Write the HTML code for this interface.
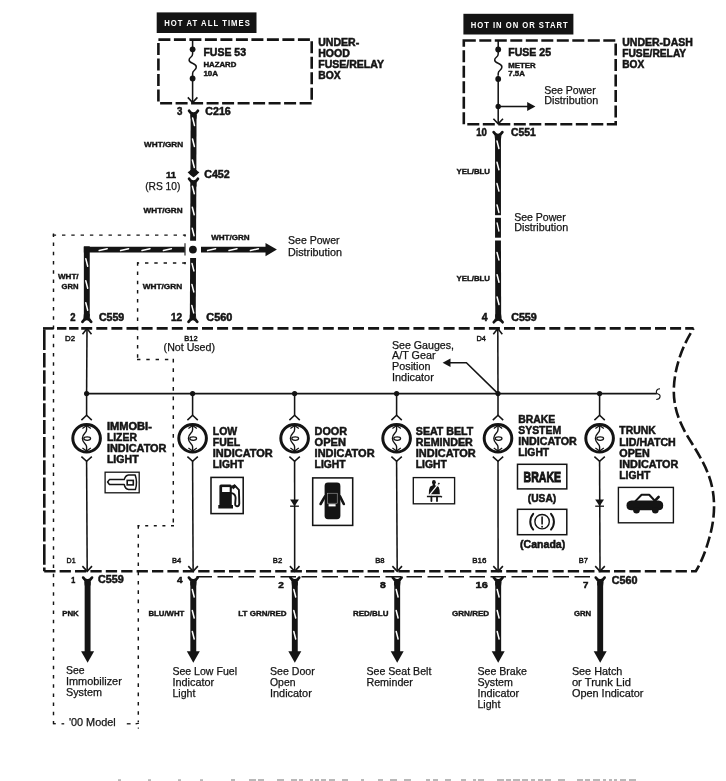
<!DOCTYPE html>
<html><head><meta charset="utf-8"><title>Indicator lights wiring diagram</title>
<style>
html,body{margin:0;padding:0;background:#fff;}
body{width:726px;height:781px;overflow:hidden;}
svg{display:block;font-family:"Liberation Sans",sans-serif;filter:blur(0.35px);}
</style></head>
<body>
<svg width="726" height="781" viewBox="0 0 726 781">
<rect width="726" height="781" fill="#ffffff"/>
<rect x="156.7" y="12.4" width="99.8" height="20.6" fill="#141414"/>
<text transform="translate(164.2,26.4) scale(0.8,1)" font-size="9.6" font-weight="bold" fill="#fff" stroke="#fff" stroke-width="0" textLength="107.0" lengthAdjust="spacing">HOT AT ALL TIMES</text>
<path d="M158.4,39.6 H311.7 V103.2 H158.4 Z" stroke="#141414" stroke-width="2.6" fill="none" stroke-linecap="butt" stroke-linejoin="miter" stroke-dasharray="12 3.5"/>
<line x1="192.6" y1="39.6" x2="192.6" y2="52.0" stroke="#141414" stroke-width="1.55" stroke-linecap="butt"/>
<circle cx="192.6" cy="49.3" r="2.9" fill="#141414"/>
<circle cx="192.6" cy="78.5" r="2.9" fill="#141414"/>
<path d="M192.6,52 L192.6,54 C192.6,57.5 189.1,57 189.1,60 C189.1,64 196.29999999999998,62.5 196.29999999999998,67 C196.29999999999998,70.5 192.6,70 192.6,73.5 L192.6,75" stroke="#141414" stroke-width="1.5" fill="none" stroke-linecap="butt" stroke-linejoin="miter"/>
<line x1="192.6" y1="75.0" x2="192.6" y2="102.4" stroke="#141414" stroke-width="1.55" stroke-linecap="butt"/>
<path d="M187.8,97.4 L192.6,102.6 L197.4,97.4" stroke="#141414" stroke-width="1.55" fill="none" stroke-linecap="butt" stroke-linejoin="miter"/>
<text x="203.4" y="56.4" font-size="10.2" font-weight="bold" fill="#141414" stroke="#141414" stroke-width="0.5" textLength="42.6" lengthAdjust="spacingAndGlyphs">FUSE 53</text>
<text x="203.4" y="67.1" font-size="6.8" font-weight="bold" fill="#141414" stroke="#141414" stroke-width="0.38" textLength="33.0" lengthAdjust="spacingAndGlyphs">HAZARD</text>
<text x="203.4" y="75.8" font-size="6.8" font-weight="bold" fill="#141414" stroke="#141414" stroke-width="0.38" textLength="14.6" lengthAdjust="spacingAndGlyphs">10A</text>
<text x="318.2" y="45.6" font-size="10.1" font-weight="bold" fill="#141414" stroke="#141414" stroke-width="0.5" textLength="41.0" lengthAdjust="spacingAndGlyphs">UNDER-</text>
<text x="318.2" y="56.6" font-size="10.1" font-weight="bold" fill="#141414" stroke="#141414" stroke-width="0.5" textLength="31.7" lengthAdjust="spacingAndGlyphs">HOOD</text>
<text x="318.2" y="67.6" font-size="10.1" font-weight="bold" fill="#141414" stroke="#141414" stroke-width="0.5" textLength="65.8" lengthAdjust="spacingAndGlyphs">FUSE/RELAY</text>
<text x="318.2" y="78.9" font-size="10.1" font-weight="bold" fill="#141414" stroke="#141414" stroke-width="0.5" textLength="22.4" lengthAdjust="spacingAndGlyphs">BOX</text>
<text x="177.1" y="114.5" font-size="10.1" font-weight="bold" fill="#141414" stroke="#141414" stroke-width="0.5" textLength="5.4" lengthAdjust="spacingAndGlyphs">3</text>
<text x="205.3" y="114.5" font-size="10.1" font-weight="bold" fill="#141414" stroke="#141414" stroke-width="0.5" textLength="25.5" lengthAdjust="spacingAndGlyphs">C216</text>
<path d="M189.14,110.80 Q190.30,113.10 193.50,113.90 Q196.70,113.10 197.86,110.80" stroke="#141414" stroke-width="2.8" fill="none" stroke-linecap="round" stroke-linejoin="round"/>
<line x1="193.5" y1="112.8" x2="193.5" y2="118.7" stroke="#141414" stroke-width="5.9" stroke-linecap="butt"/>
<path d="M190.55,118.20 Q190.55,113.40 188.80,110.70 L190.85,113.20 Z" fill="#141414"/>
<path d="M196.45,118.20 Q196.45,113.40 198.20,110.70 L196.15,113.20 Z" fill="#141414"/>
<line x1="193.6" y1="115.0" x2="193.4" y2="171.5" stroke="#141414" stroke-width="5.9" stroke-linecap="butt"/>
<line x1="192.6" y1="118.0" x2="194.5" y2="125.5" stroke="#fff" stroke-width="1.5" stroke-linecap="round"/>
<line x1="192.5" y1="139.0" x2="194.4" y2="146.5" stroke="#fff" stroke-width="1.5" stroke-linecap="round"/>
<line x1="192.4" y1="160.0" x2="194.3" y2="167.5" stroke="#fff" stroke-width="1.5" stroke-linecap="round"/>
<path d="M190.5,170 Q189.5,171.6 187.6,172.2 Q190.5,175.6 193.5,177.4 Q196.5,175.6 199.4,172.2 Q197.5,171.6 196.5,170 Z" fill="#141414"/>
<path d="M189.14,178.80 Q190.30,181.10 193.50,181.90 Q196.70,181.10 197.86,178.80" stroke="#141414" stroke-width="2.8" fill="none" stroke-linecap="round" stroke-linejoin="round"/>
<line x1="193.5" y1="180.8" x2="193.5" y2="186.7" stroke="#141414" stroke-width="5.9" stroke-linecap="butt"/>
<path d="M190.55,186.20 Q190.55,181.40 188.80,178.70 L190.85,181.20 Z" fill="#141414"/>
<path d="M196.45,186.20 Q196.45,181.40 198.20,178.70 L196.15,181.20 Z" fill="#141414"/>
<line x1="193.4" y1="184.5" x2="193.1" y2="240.8" stroke="#141414" stroke-width="5.9" stroke-linecap="butt"/>
<line x1="192.4" y1="186.3" x2="194.3" y2="193.8" stroke="#fff" stroke-width="1.5" stroke-linecap="round"/>
<line x1="192.3" y1="207.3" x2="194.2" y2="214.8" stroke="#fff" stroke-width="1.5" stroke-linecap="round"/>
<line x1="192.2" y1="228.3" x2="194.1" y2="235.8" stroke="#fff" stroke-width="1.5" stroke-linecap="round"/>
<text x="144.0" y="146.5" font-size="7.4" font-weight="bold" fill="#141414" stroke="#141414" stroke-width="0.38" textLength="39.1" lengthAdjust="spacingAndGlyphs">WHT/GRN</text>
<text x="166.0" y="178.3" font-size="9.9" font-weight="bold" fill="#141414" stroke="#141414" stroke-width="0.5" textLength="10.1" lengthAdjust="spacingAndGlyphs">11</text>
<text x="204.2" y="178.3" font-size="10.1" font-weight="bold" fill="#141414" stroke="#141414" stroke-width="0.5" textLength="25.5" lengthAdjust="spacingAndGlyphs">C452</text>
<text x="145.2" y="190.0" font-size="10.6" font-weight="normal" fill="#141414" stroke="#141414" stroke-width="0.25" textLength="35.2" lengthAdjust="spacingAndGlyphs">(RS 10)</text>
<text x="143.6" y="212.7" font-size="7.4" font-weight="bold" fill="#141414" stroke="#141414" stroke-width="0.38" textLength="39.0" lengthAdjust="spacingAndGlyphs">WHT/GRN</text>
<line x1="83.8" y1="249.6" x2="184.8" y2="249.6" stroke="#141414" stroke-width="5.9" stroke-linecap="butt"/>
<line x1="99.2" y1="250.6" x2="107.2" y2="248.7" stroke="#fff" stroke-width="1.5" stroke-linecap="round"/>
<line x1="120.6" y1="250.6" x2="128.6" y2="248.7" stroke="#fff" stroke-width="1.5" stroke-linecap="round"/>
<line x1="142.0" y1="250.6" x2="150.0" y2="248.7" stroke="#fff" stroke-width="1.5" stroke-linecap="round"/>
<line x1="163.4" y1="250.6" x2="171.4" y2="248.7" stroke="#fff" stroke-width="1.5" stroke-linecap="round"/>
<line x1="201.0" y1="249.6" x2="266.5" y2="249.6" stroke="#141414" stroke-width="5.9" stroke-linecap="butt"/>
<line x1="207.6" y1="250.6" x2="215.6" y2="248.7" stroke="#fff" stroke-width="1.5" stroke-linecap="round"/>
<line x1="229.0" y1="250.6" x2="237.0" y2="248.7" stroke="#fff" stroke-width="1.5" stroke-linecap="round"/>
<line x1="250.4" y1="250.6" x2="258.4" y2="248.7" stroke="#fff" stroke-width="1.5" stroke-linecap="round"/>
<path d="M265.5,243.0 L276.9,249.6 L265.5,256.2 Z" fill="#141414"/>
<circle cx="192.9" cy="249.6" r="3.9" fill="#141414"/>
<line x1="193.1" y1="258.0" x2="192.8" y2="316.5" stroke="#141414" stroke-width="5.9" stroke-linecap="butt"/>
<line x1="192.0" y1="263.4" x2="193.9" y2="270.9" stroke="#fff" stroke-width="1.5" stroke-linecap="round"/>
<line x1="191.9" y1="284.4" x2="193.8" y2="291.9" stroke="#fff" stroke-width="1.5" stroke-linecap="round"/>
<line x1="191.8" y1="305.4" x2="193.7" y2="312.9" stroke="#fff" stroke-width="1.5" stroke-linecap="round"/>
<path d="M188.54,321.80 Q189.70,319.50 192.90,318.70 Q196.10,319.50 197.26,321.80" stroke="#141414" stroke-width="2.8" fill="none" stroke-linecap="round" stroke-linejoin="round"/>
<line x1="192.9" y1="319.8" x2="192.9" y2="313.9" stroke="#141414" stroke-width="5.9" stroke-linecap="butt"/>
<path d="M189.95,314.40 Q189.95,319.20 188.20,321.90 L190.25,319.40 Z" fill="#141414"/>
<path d="M195.85,314.40 Q195.85,319.20 197.60,321.90 L195.55,319.40 Z" fill="#141414"/>
<line x1="86.8" y1="246.3" x2="86.8" y2="316.5" stroke="#141414" stroke-width="5.9" stroke-linecap="butt"/>
<line x1="85.8" y1="258.7" x2="87.7" y2="266.2" stroke="#fff" stroke-width="1.5" stroke-linecap="round"/>
<line x1="85.8" y1="280.7" x2="87.7" y2="288.2" stroke="#fff" stroke-width="1.5" stroke-linecap="round"/>
<line x1="85.8" y1="302.7" x2="87.7" y2="310.2" stroke="#fff" stroke-width="1.5" stroke-linecap="round"/>
<path d="M82.44,321.80 Q83.60,319.50 86.80,318.70 Q90.00,319.50 91.16,321.80" stroke="#141414" stroke-width="2.8" fill="none" stroke-linecap="round" stroke-linejoin="round"/>
<line x1="86.8" y1="319.8" x2="86.8" y2="313.9" stroke="#141414" stroke-width="5.9" stroke-linecap="butt"/>
<path d="M83.85,314.40 Q83.85,319.20 82.10,321.90 L84.15,319.40 Z" fill="#141414"/>
<path d="M89.75,314.40 Q89.75,319.20 91.50,321.90 L89.45,319.40 Z" fill="#141414"/>
<text x="211.2" y="239.6" font-size="7.4" font-weight="bold" fill="#141414" stroke="#141414" stroke-width="0.38" textLength="38.5" lengthAdjust="spacingAndGlyphs">WHT/GRN</text>
<text x="288.0" y="244.4" font-size="10.7" font-weight="normal" fill="#141414" stroke="#141414" stroke-width="0.25" textLength="51.5" lengthAdjust="spacingAndGlyphs">See Power</text>
<text x="288.0" y="255.5" font-size="10.7" font-weight="normal" fill="#141414" stroke="#141414" stroke-width="0.25" textLength="54.0" lengthAdjust="spacingAndGlyphs">Distribution</text>
<text x="58.0" y="279.0" font-size="7.4" font-weight="bold" fill="#141414" stroke="#141414" stroke-width="0.38" textLength="20.6" lengthAdjust="spacingAndGlyphs">WHT/</text>
<text x="61.5" y="288.6" font-size="7.4" font-weight="bold" fill="#141414" stroke="#141414" stroke-width="0.38" textLength="17.0" lengthAdjust="spacingAndGlyphs">GRN</text>
<text x="142.8" y="288.6" font-size="7.4" font-weight="bold" fill="#141414" stroke="#141414" stroke-width="0.38" textLength="39.4" lengthAdjust="spacingAndGlyphs">WHT/GRN</text>
<text x="70.2" y="321.2" font-size="10.1" font-weight="bold" fill="#141414" stroke="#141414" stroke-width="0.5" textLength="5.3" lengthAdjust="spacingAndGlyphs">2</text>
<text x="98.9" y="321.2" font-size="10.1" font-weight="bold" fill="#141414" stroke="#141414" stroke-width="0.5" textLength="25.3" lengthAdjust="spacingAndGlyphs">C559</text>
<text x="171.0" y="321.2" font-size="10.1" font-weight="bold" fill="#141414" stroke="#141414" stroke-width="0.5" textLength="11.2" lengthAdjust="spacingAndGlyphs">12</text>
<text x="206.3" y="321.2" font-size="10.1" font-weight="bold" fill="#141414" stroke="#141414" stroke-width="0.5" textLength="26.0" lengthAdjust="spacingAndGlyphs">C560</text>
<rect x="463.4" y="13.8" width="110" height="20.7" fill="#141414"/>
<text transform="translate(470.8,28.4) scale(0.8,1)" font-size="9.6" font-weight="bold" fill="#fff" stroke="#fff" stroke-width="0" textLength="121.2" lengthAdjust="spacing">HOT IN ON OR START</text>
<path d="M463.8,40.5 H615.7 V124.2 H463.8 Z" stroke="#141414" stroke-width="2.6" fill="none" stroke-linecap="butt" stroke-linejoin="miter" stroke-dasharray="12 3.5"/>
<line x1="498.2" y1="40.8" x2="498.2" y2="52.5" stroke="#141414" stroke-width="1.55" stroke-linecap="butt"/>
<circle cx="498.2" cy="49.4" r="2.9" fill="#141414"/>
<circle cx="498.2" cy="79.0" r="2.9" fill="#141414"/>
<circle cx="498.2" cy="106.5" r="2.7" fill="#141414"/>
<path d="M498.2,52 L498.2,54 C498.2,57.5 494.7,57 494.7,60 C494.7,64 501.9,62.5 501.9,67 C501.9,70.5 498.2,70 498.2,73.5 L498.2,75.5" stroke="#141414" stroke-width="1.5" fill="none" stroke-linecap="butt" stroke-linejoin="miter"/>
<line x1="498.2" y1="75.5" x2="498.2" y2="124.0" stroke="#141414" stroke-width="1.55" stroke-linecap="butt"/>
<path d="M493.4,118.7 L498.2,123.9 L503.0,118.7" stroke="#141414" stroke-width="1.55" fill="none" stroke-linecap="butt" stroke-linejoin="miter"/>
<line x1="498.2" y1="106.5" x2="528.0" y2="106.5" stroke="#141414" stroke-width="1.55" stroke-linecap="butt"/>
<path d="M527.2,102.0 L535.4,106.5 L527.2,111.0 Z" fill="#141414"/>
<text x="508.3" y="56.2" font-size="10.2" font-weight="bold" fill="#141414" stroke="#141414" stroke-width="0.5" textLength="42.7" lengthAdjust="spacingAndGlyphs">FUSE 25</text>
<text x="508.3" y="68.0" font-size="6.9" font-weight="bold" fill="#141414" stroke="#141414" stroke-width="0.38" textLength="27.4" lengthAdjust="spacingAndGlyphs">METER</text>
<text x="508.3" y="76.1" font-size="6.9" font-weight="bold" fill="#141414" stroke="#141414" stroke-width="0.38" textLength="16.5" lengthAdjust="spacingAndGlyphs">7.5A</text>
<text x="544.2" y="93.7" font-size="10.7" font-weight="normal" fill="#141414" stroke="#141414" stroke-width="0.25" textLength="51.5" lengthAdjust="spacingAndGlyphs">See Power</text>
<text x="544.2" y="104.3" font-size="10.7" font-weight="normal" fill="#141414" stroke="#141414" stroke-width="0.25" textLength="54.0" lengthAdjust="spacingAndGlyphs">Distribution</text>
<text x="622.2" y="45.6" font-size="10.1" font-weight="bold" fill="#141414" stroke="#141414" stroke-width="0.5" textLength="70.7" lengthAdjust="spacingAndGlyphs">UNDER-DASH</text>
<text x="622.2" y="56.6" font-size="10.1" font-weight="bold" fill="#141414" stroke="#141414" stroke-width="0.5" textLength="64.0" lengthAdjust="spacingAndGlyphs">FUSE/RELAY</text>
<text x="622.2" y="67.7" font-size="10.1" font-weight="bold" fill="#141414" stroke="#141414" stroke-width="0.5" textLength="22.0" lengthAdjust="spacingAndGlyphs">BOX</text>
<text x="476.3" y="136.3" font-size="10.1" font-weight="bold" fill="#141414" stroke="#141414" stroke-width="0.5" textLength="10.6" lengthAdjust="spacingAndGlyphs">10</text>
<text x="511.0" y="136.3" font-size="10.1" font-weight="bold" fill="#141414" stroke="#141414" stroke-width="0.5" textLength="24.8" lengthAdjust="spacingAndGlyphs">C551</text>
<path d="M493.64,132.20 Q494.80,134.50 498.00,135.30 Q501.20,134.50 502.36,132.20" stroke="#141414" stroke-width="2.8" fill="none" stroke-linecap="round" stroke-linejoin="round"/>
<line x1="498.0" y1="134.2" x2="498.0" y2="140.1" stroke="#141414" stroke-width="5.9" stroke-linecap="butt"/>
<path d="M495.05,139.60 Q495.05,134.80 493.30,132.10 L495.35,134.60 Z" fill="#141414"/>
<path d="M500.95,139.60 Q500.95,134.80 502.70,132.10 L500.65,134.60 Z" fill="#141414"/>
<line x1="498.0" y1="137.0" x2="498.0" y2="215.2" stroke="#141414" stroke-width="5.9" stroke-linecap="butt"/>
<line x1="497.0" y1="141.0" x2="498.9" y2="148.5" stroke="#fff" stroke-width="1.5" stroke-linecap="round"/>
<line x1="497.0" y1="162.3" x2="498.9" y2="169.8" stroke="#fff" stroke-width="1.5" stroke-linecap="round"/>
<line x1="497.0" y1="183.6" x2="498.9" y2="191.1" stroke="#fff" stroke-width="1.5" stroke-linecap="round"/>
<line x1="497.0" y1="204.9" x2="498.9" y2="212.4" stroke="#fff" stroke-width="1.5" stroke-linecap="round"/>
<line x1="498.0" y1="217.8" x2="498.0" y2="237.7" stroke="#141414" stroke-width="5.9" stroke-linecap="butt"/>
<line x1="497.1" y1="223.0" x2="498.9" y2="231.0" stroke="#fff" stroke-width="1.3" stroke-linecap="round"/>
<line x1="498.0" y1="240.5" x2="498.2" y2="317.5" stroke="#141414" stroke-width="5.9" stroke-linecap="butt"/>
<line x1="497.0" y1="252.4" x2="498.9" y2="259.9" stroke="#fff" stroke-width="1.5" stroke-linecap="round"/>
<line x1="497.1" y1="274.7" x2="499.0" y2="282.2" stroke="#fff" stroke-width="1.5" stroke-linecap="round"/>
<line x1="497.1" y1="297.0" x2="499.0" y2="304.5" stroke="#fff" stroke-width="1.5" stroke-linecap="round"/>
<path d="M493.84,322.20 Q495.00,319.90 498.20,319.10 Q501.40,319.90 502.56,322.20" stroke="#141414" stroke-width="2.8" fill="none" stroke-linecap="round" stroke-linejoin="round"/>
<line x1="498.2" y1="320.2" x2="498.2" y2="314.3" stroke="#141414" stroke-width="5.9" stroke-linecap="butt"/>
<path d="M495.25,314.80 Q495.25,319.60 493.50,322.30 L495.55,319.80 Z" fill="#141414"/>
<path d="M501.15,314.80 Q501.15,319.60 502.90,322.30 L500.85,319.80 Z" fill="#141414"/>
<text x="456.5" y="174.4" font-size="7.2" font-weight="bold" fill="#141414" stroke="#141414" stroke-width="0.38" textLength="33.5" lengthAdjust="spacingAndGlyphs">YEL/BLU</text>
<text x="456.5" y="281.4" font-size="7.2" font-weight="bold" fill="#141414" stroke="#141414" stroke-width="0.38" textLength="33.5" lengthAdjust="spacingAndGlyphs">YEL/BLU</text>
<text x="514.2" y="220.5" font-size="10.7" font-weight="normal" fill="#141414" stroke="#141414" stroke-width="0.25" textLength="51.5" lengthAdjust="spacingAndGlyphs">See Power</text>
<text x="514.2" y="231.3" font-size="10.7" font-weight="normal" fill="#141414" stroke="#141414" stroke-width="0.25" textLength="54.0" lengthAdjust="spacingAndGlyphs">Distribution</text>
<text x="481.7" y="321.3" font-size="10.1" font-weight="bold" fill="#141414" stroke="#141414" stroke-width="0.5" textLength="5.8" lengthAdjust="spacingAndGlyphs">4</text>
<text x="511.2" y="321.3" font-size="10.1" font-weight="bold" fill="#141414" stroke="#141414" stroke-width="0.5" textLength="25.6" lengthAdjust="spacingAndGlyphs">C559</text>
<line x1="44.3" y1="329.6" x2="44.3" y2="571.2" stroke="#141414" stroke-width="2.6" stroke-linecap="butt" stroke-dasharray="20.5 2.8 14.5 2.8 13.5 2.8 14 2.8 14 2.8 14 2.8"/>
<line x1="43.0" y1="328.4" x2="53.7" y2="328.4" stroke="#141414" stroke-width="2.6" stroke-linecap="butt"/>
<path d="M57,328.4 H81" stroke="#141414" stroke-width="2.6" fill="none" stroke-linecap="butt" stroke-linejoin="miter" stroke-dasharray="9.4 2.7"/>
<path d="M81.2,328.4 H693.6" stroke="#141414" stroke-width="2.6" fill="none" stroke-linecap="butt" stroke-linejoin="miter" stroke-dasharray="11 4.1"/>
<path d="M44.2,571.2 H695.8 C701.5,562 706,550 709.3,538 C714,522 715.5,505 712.5,489 C709,470 698,453 688,437 C679,422 674,408 673.8,392 C673.6,370 682,346 693.6,328.4" stroke="#141414" stroke-width="2.6" fill="none" stroke-linecap="butt" stroke-linejoin="miter" stroke-dasharray="11.3 4.1"/>
<line x1="196.5" y1="576.7" x2="595.5" y2="576.7" stroke="#141414" stroke-width="1.35" stroke-linecap="butt" stroke-dasharray="15.5 5.5"/>
<line x1="53.5" y1="233.4" x2="53.5" y2="724.2" stroke="#141414" stroke-width="1.45" stroke-linecap="butt" stroke-dasharray="3.5 5.7"/>
<line x1="52.7" y1="235.1" x2="185.6" y2="235.1" stroke="#141414" stroke-width="1.45" stroke-linecap="butt" stroke-dasharray="3.4 5.9"/>
<line x1="185.0" y1="234.4" x2="185.0" y2="236.6" stroke="#141414" stroke-width="1.45" stroke-linecap="butt"/>
<line x1="185.0" y1="243.2" x2="185.0" y2="255.4" stroke="#141414" stroke-width="1.1" stroke-linecap="butt"/>
<line x1="185.0" y1="262.0" x2="185.0" y2="264.2" stroke="#141414" stroke-width="1.45" stroke-linecap="butt"/>
<line x1="185.6" y1="263.0" x2="137.0" y2="263.0" stroke="#141414" stroke-width="1.45" stroke-linecap="butt" stroke-dasharray="3.4 5.9"/>
<line x1="137.6" y1="262.3" x2="137.6" y2="359.4" stroke="#141414" stroke-width="1.45" stroke-linecap="butt" stroke-dasharray="3.5 5.7"/>
<line x1="137.0" y1="359.4" x2="173.9" y2="359.4" stroke="#141414" stroke-width="1.45" stroke-linecap="butt" stroke-dasharray="3.4 5.9"/>
<line x1="173.3" y1="358.8" x2="173.3" y2="526.5" stroke="#141414" stroke-width="1.45" stroke-linecap="butt" stroke-dasharray="3.8 5.6"/>
<line x1="174.0" y1="525.8" x2="137.6" y2="525.8" stroke="#141414" stroke-width="1.45" stroke-linecap="butt" stroke-dasharray="3 5.6"/>
<line x1="138.3" y1="525.2" x2="138.3" y2="722.0" stroke="#141414" stroke-width="1.45" stroke-linecap="butt" stroke-dasharray="3.6 5.7"/>
<line x1="53.5" y1="723.7" x2="55.8" y2="723.7" stroke="#141414" stroke-width="1.3" stroke-linecap="butt"/>
<line x1="61.5" y1="723.8" x2="64.2" y2="723.8" stroke="#141414" stroke-width="1.3" stroke-linecap="butt"/>
<line x1="126.8" y1="723.8" x2="130.6" y2="723.8" stroke="#141414" stroke-width="1.3" stroke-linecap="butt"/>
<line x1="135.6" y1="723.8" x2="139.0" y2="723.2" stroke="#141414" stroke-width="1.3" stroke-linecap="butt"/>
<line x1="138.3" y1="727.6" x2="138.3" y2="728.8" stroke="#141414" stroke-width="1.1" stroke-linecap="butt"/>
<text x="65.0" y="340.7" font-size="7.7" font-weight="normal" fill="#141414" stroke="#141414" stroke-width="0.45" textLength="10.0" lengthAdjust="spacingAndGlyphs">D2</text>
<text x="184.3" y="340.7" font-size="7.7" font-weight="normal" fill="#141414" stroke="#141414" stroke-width="0.45" textLength="13.4" lengthAdjust="spacingAndGlyphs">B12</text>
<text x="476.4" y="341.2" font-size="7.7" font-weight="normal" fill="#141414" stroke="#141414" stroke-width="0.45" textLength="9.4" lengthAdjust="spacingAndGlyphs">D4</text>
<text x="163.6" y="350.9" font-size="10.7" font-weight="normal" fill="#141414" stroke="#141414" stroke-width="0.25" textLength="51.4" lengthAdjust="spacingAndGlyphs">(Not Used)</text>
<line x1="86.5" y1="393.6" x2="656.8" y2="393.6" stroke="#141414" stroke-width="1.55" stroke-linecap="butt"/>
<path d="M660,388.8 C655.5,389 655.5,393.5 658,394 C661,394.6 661,399.2 656.2,399.5" stroke="#141414" stroke-width="1.1" fill="none" stroke-linecap="butt" stroke-linejoin="miter"/>
<circle cx="86.6" cy="393.6" r="2.6" fill="#141414"/>
<line x1="86.6" y1="393.6" x2="86.6" y2="415.6" stroke="#141414" stroke-width="1.55" stroke-linecap="butt"/>
<path d="M81.4,420.1 L86.6,415.3 L91.8,420.1" stroke="#141414" stroke-width="1.55" fill="none" stroke-linecap="butt" stroke-linejoin="miter"/>
<circle cx="86.6" cy="438.3" r="13.8" fill="none" stroke="#141414" stroke-width="3.0"/>
<path d="M82.4,428.5 L86.6,425.5 L90.8,428.5" stroke="#141414" stroke-width="1.25" fill="none" stroke-linecap="butt" stroke-linejoin="miter"/>
<path d="M82.4,448.1 L86.6,451.1 L90.8,448.1" stroke="#141414" stroke-width="1.25" fill="none" stroke-linecap="butt" stroke-linejoin="miter"/>
<path d="M86.6,425.3 L86.6,429.8 C86.6,433.3 82.4,433.3 82.4,438.3 C82.4,443.3 86.6,443.3 86.6,446.8 L86.6,451.3" stroke="#141414" stroke-width="1.4" fill="none" stroke-linecap="butt" stroke-linejoin="miter"/>
<ellipse cx="87.2" cy="438.6" rx="3.4" ry="1.7" fill="none" stroke="#141414" stroke-width="1.25"/>
<path d="M81.4,456.7 L86.6,461.3 L91.8,456.7" stroke="#141414" stroke-width="1.55" fill="none" stroke-linecap="butt" stroke-linejoin="miter"/>
<line x1="86.6" y1="461.0" x2="87.2" y2="571.0" stroke="#141414" stroke-width="1.55" stroke-linecap="butt"/>
<path d="M82.4,566.1 L87.2,571.3 L92.0,566.1" stroke="#141414" stroke-width="1.55" fill="none" stroke-linecap="butt" stroke-linejoin="miter"/>
<circle cx="192.6" cy="393.6" r="2.6" fill="#141414"/>
<line x1="192.6" y1="393.6" x2="192.6" y2="415.6" stroke="#141414" stroke-width="1.55" stroke-linecap="butt"/>
<path d="M187.4,420.1 L192.6,415.3 L197.8,420.1" stroke="#141414" stroke-width="1.55" fill="none" stroke-linecap="butt" stroke-linejoin="miter"/>
<circle cx="192.6" cy="438.3" r="13.8" fill="none" stroke="#141414" stroke-width="3.0"/>
<path d="M188.4,428.5 L192.6,425.5 L196.8,428.5" stroke="#141414" stroke-width="1.25" fill="none" stroke-linecap="butt" stroke-linejoin="miter"/>
<path d="M188.4,448.1 L192.6,451.1 L196.8,448.1" stroke="#141414" stroke-width="1.25" fill="none" stroke-linecap="butt" stroke-linejoin="miter"/>
<path d="M192.6,425.3 L192.6,429.8 C192.6,433.3 188.4,433.3 188.4,438.3 C188.4,443.3 192.6,443.3 192.6,446.8 L192.6,451.3" stroke="#141414" stroke-width="1.4" fill="none" stroke-linecap="butt" stroke-linejoin="miter"/>
<ellipse cx="193.2" cy="438.6" rx="3.4" ry="1.7" fill="none" stroke="#141414" stroke-width="1.25"/>
<path d="M187.4,456.7 L192.6,461.3 L197.8,456.7" stroke="#141414" stroke-width="1.55" fill="none" stroke-linecap="butt" stroke-linejoin="miter"/>
<line x1="192.6" y1="461.0" x2="193.1" y2="571.0" stroke="#141414" stroke-width="1.55" stroke-linecap="butt"/>
<path d="M188.3,566.1 L193.1,571.3 L197.9,566.1" stroke="#141414" stroke-width="1.55" fill="none" stroke-linecap="butt" stroke-linejoin="miter"/>
<circle cx="294.6" cy="393.6" r="2.6" fill="#141414"/>
<line x1="294.6" y1="393.6" x2="294.6" y2="415.6" stroke="#141414" stroke-width="1.55" stroke-linecap="butt"/>
<path d="M289.4,420.1 L294.6,415.3 L299.8,420.1" stroke="#141414" stroke-width="1.55" fill="none" stroke-linecap="butt" stroke-linejoin="miter"/>
<circle cx="294.6" cy="438.3" r="13.8" fill="none" stroke="#141414" stroke-width="3.0"/>
<path d="M290.4,428.5 L294.6,425.5 L298.8,428.5" stroke="#141414" stroke-width="1.25" fill="none" stroke-linecap="butt" stroke-linejoin="miter"/>
<path d="M290.4,448.1 L294.6,451.1 L298.8,448.1" stroke="#141414" stroke-width="1.25" fill="none" stroke-linecap="butt" stroke-linejoin="miter"/>
<path d="M294.6,425.3 L294.6,429.8 C294.6,433.3 290.4,433.3 290.4,438.3 C290.4,443.3 294.6,443.3 294.6,446.8 L294.6,451.3" stroke="#141414" stroke-width="1.4" fill="none" stroke-linecap="butt" stroke-linejoin="miter"/>
<ellipse cx="295.2" cy="438.6" rx="3.4" ry="1.7" fill="none" stroke="#141414" stroke-width="1.25"/>
<path d="M289.4,456.7 L294.6,461.3 L299.8,456.7" stroke="#141414" stroke-width="1.55" fill="none" stroke-linecap="butt" stroke-linejoin="miter"/>
<line x1="294.6" y1="461.0" x2="294.7" y2="571.0" stroke="#141414" stroke-width="1.55" stroke-linecap="butt"/>
<path d="M289.9,566.1 L294.7,571.3 L299.5,566.1" stroke="#141414" stroke-width="1.55" fill="none" stroke-linecap="butt" stroke-linejoin="miter"/>
<circle cx="396.6" cy="393.6" r="2.6" fill="#141414"/>
<line x1="396.6" y1="393.6" x2="396.6" y2="415.6" stroke="#141414" stroke-width="1.55" stroke-linecap="butt"/>
<path d="M391.4,420.1 L396.6,415.3 L401.8,420.1" stroke="#141414" stroke-width="1.55" fill="none" stroke-linecap="butt" stroke-linejoin="miter"/>
<circle cx="396.6" cy="438.3" r="13.8" fill="none" stroke="#141414" stroke-width="3.0"/>
<path d="M392.4,428.5 L396.6,425.5 L400.8,428.5" stroke="#141414" stroke-width="1.25" fill="none" stroke-linecap="butt" stroke-linejoin="miter"/>
<path d="M392.4,448.1 L396.6,451.1 L400.8,448.1" stroke="#141414" stroke-width="1.25" fill="none" stroke-linecap="butt" stroke-linejoin="miter"/>
<path d="M396.6,425.3 L396.6,429.8 C396.6,433.3 392.4,433.3 392.4,438.3 C392.4,443.3 396.6,443.3 396.6,446.8 L396.6,451.3" stroke="#141414" stroke-width="1.4" fill="none" stroke-linecap="butt" stroke-linejoin="miter"/>
<ellipse cx="397.2" cy="438.6" rx="3.4" ry="1.7" fill="none" stroke="#141414" stroke-width="1.25"/>
<path d="M391.4,456.7 L396.6,461.3 L401.8,456.7" stroke="#141414" stroke-width="1.55" fill="none" stroke-linecap="butt" stroke-linejoin="miter"/>
<line x1="396.6" y1="461.0" x2="397.2" y2="571.0" stroke="#141414" stroke-width="1.55" stroke-linecap="butt"/>
<path d="M392.4,566.1 L397.2,571.3 L402.0,566.1" stroke="#141414" stroke-width="1.55" fill="none" stroke-linecap="butt" stroke-linejoin="miter"/>
<circle cx="498.0" cy="393.6" r="2.6" fill="#141414"/>
<line x1="498.0" y1="393.6" x2="498.0" y2="415.6" stroke="#141414" stroke-width="1.55" stroke-linecap="butt"/>
<path d="M492.8,420.1 L498.0,415.3 L503.2,420.1" stroke="#141414" stroke-width="1.55" fill="none" stroke-linecap="butt" stroke-linejoin="miter"/>
<circle cx="498.0" cy="438.3" r="13.8" fill="none" stroke="#141414" stroke-width="3.0"/>
<path d="M493.8,428.5 L498.0,425.5 L502.2,428.5" stroke="#141414" stroke-width="1.25" fill="none" stroke-linecap="butt" stroke-linejoin="miter"/>
<path d="M493.8,448.1 L498.0,451.1 L502.2,448.1" stroke="#141414" stroke-width="1.25" fill="none" stroke-linecap="butt" stroke-linejoin="miter"/>
<path d="M498.0,425.3 L498.0,429.8 C498.0,433.3 493.8,433.3 493.8,438.3 C493.8,443.3 498.0,443.3 498.0,446.8 L498.0,451.3" stroke="#141414" stroke-width="1.4" fill="none" stroke-linecap="butt" stroke-linejoin="miter"/>
<ellipse cx="498.6" cy="438.6" rx="3.4" ry="1.7" fill="none" stroke="#141414" stroke-width="1.25"/>
<path d="M492.8,456.7 L498.0,461.3 L503.2,456.7" stroke="#141414" stroke-width="1.55" fill="none" stroke-linecap="butt" stroke-linejoin="miter"/>
<line x1="498.0" y1="461.0" x2="498.1" y2="571.0" stroke="#141414" stroke-width="1.55" stroke-linecap="butt"/>
<path d="M493.3,566.1 L498.1,571.3 L502.9,566.1" stroke="#141414" stroke-width="1.55" fill="none" stroke-linecap="butt" stroke-linejoin="miter"/>
<circle cx="599.6" cy="393.6" r="2.6" fill="#141414"/>
<line x1="599.6" y1="393.6" x2="599.6" y2="415.6" stroke="#141414" stroke-width="1.55" stroke-linecap="butt"/>
<path d="M594.4,420.1 L599.6,415.3 L604.8,420.1" stroke="#141414" stroke-width="1.55" fill="none" stroke-linecap="butt" stroke-linejoin="miter"/>
<circle cx="599.6" cy="438.3" r="13.8" fill="none" stroke="#141414" stroke-width="3.0"/>
<path d="M595.4,428.5 L599.6,425.5 L603.8,428.5" stroke="#141414" stroke-width="1.25" fill="none" stroke-linecap="butt" stroke-linejoin="miter"/>
<path d="M595.4,448.1 L599.6,451.1 L603.8,448.1" stroke="#141414" stroke-width="1.25" fill="none" stroke-linecap="butt" stroke-linejoin="miter"/>
<path d="M599.6,425.3 L599.6,429.8 C599.6,433.3 595.4,433.3 595.4,438.3 C595.4,443.3 599.6,443.3 599.6,446.8 L599.6,451.3" stroke="#141414" stroke-width="1.4" fill="none" stroke-linecap="butt" stroke-linejoin="miter"/>
<ellipse cx="600.2" cy="438.6" rx="3.4" ry="1.7" fill="none" stroke="#141414" stroke-width="1.25"/>
<path d="M594.4,456.7 L599.6,461.3 L604.8,456.7" stroke="#141414" stroke-width="1.55" fill="none" stroke-linecap="butt" stroke-linejoin="miter"/>
<line x1="599.6" y1="461.0" x2="600.0" y2="571.0" stroke="#141414" stroke-width="1.55" stroke-linecap="butt"/>
<path d="M595.2,566.1 L600.0,571.3 L604.8,566.1" stroke="#141414" stroke-width="1.55" fill="none" stroke-linecap="butt" stroke-linejoin="miter"/>
<line x1="87.0" y1="328.4" x2="86.6" y2="393.6" stroke="#141414" stroke-width="1.55" stroke-linecap="butt"/>
<path d="M82.5,334.2 L87.0,328.4 L91.5,334.2" stroke="#141414" stroke-width="1.55" fill="none" stroke-linecap="butt" stroke-linejoin="miter"/>
<line x1="497.8" y1="328.4" x2="498.0" y2="393.6" stroke="#141414" stroke-width="1.55" stroke-linecap="butt"/>
<path d="M493.3,334.2 L497.8,328.4 L502.3,334.2" stroke="#141414" stroke-width="1.55" fill="none" stroke-linecap="butt" stroke-linejoin="miter"/>
<path d="M290.1,499.5 L298.9,499.5 L294.5,506.2 Z" fill="#141414"/>
<line x1="290.1" y1="506.2" x2="298.9" y2="506.2" stroke="#141414" stroke-width="1.3" stroke-linecap="butt"/>
<path d="M595.2,499.5 L604.0,499.5 L599.6,506.2 Z" fill="#141414"/>
<line x1="595.2" y1="506.2" x2="604.0" y2="506.2" stroke="#141414" stroke-width="1.3" stroke-linecap="butt"/>
<path d="M498,393.6 L466.4,362.7 H449" stroke="#141414" stroke-width="1.55" fill="none" stroke-linecap="butt" stroke-linejoin="miter"/>
<path d="M450.5,358.4 L442.6,362.7 L450.5,367 Z" fill="#141414"/>
<text x="392.0" y="348.9" font-size="10.7" font-weight="normal" fill="#141414" stroke="#141414" stroke-width="0.25" textLength="62.0" lengthAdjust="spacingAndGlyphs">See Gauges,</text>
<text x="392.0" y="359.4" font-size="10.7" font-weight="normal" fill="#141414" stroke="#141414" stroke-width="0.25" textLength="43.5" lengthAdjust="spacingAndGlyphs">A/T Gear</text>
<text x="392.0" y="370.4" font-size="10.7" font-weight="normal" fill="#141414" stroke="#141414" stroke-width="0.25" textLength="38.5" lengthAdjust="spacingAndGlyphs">Position</text>
<text x="392.0" y="381.2" font-size="10.7" font-weight="normal" fill="#141414" stroke="#141414" stroke-width="0.25" textLength="41.8" lengthAdjust="spacingAndGlyphs">Indicator</text>
<text x="106.9" y="429.9" font-size="10.2" font-weight="bold" fill="#141414" stroke="#141414" stroke-width="0.5" textLength="45.0" lengthAdjust="spacingAndGlyphs">IMMOBI-</text>
<text x="106.9" y="440.9" font-size="10.2" font-weight="bold" fill="#141414" stroke="#141414" stroke-width="0.5" textLength="30.0" lengthAdjust="spacingAndGlyphs">LIZER</text>
<text x="106.9" y="452.0" font-size="10.2" font-weight="bold" fill="#141414" stroke="#141414" stroke-width="0.5" textLength="59.6" lengthAdjust="spacingAndGlyphs">INDICATOR</text>
<text x="106.9" y="463.0" font-size="10.2" font-weight="bold" fill="#141414" stroke="#141414" stroke-width="0.5" textLength="31.7" lengthAdjust="spacingAndGlyphs">LIGHT</text>
<text x="212.8" y="434.7" font-size="10.2" font-weight="bold" fill="#141414" stroke="#141414" stroke-width="0.5" textLength="24.4" lengthAdjust="spacingAndGlyphs">LOW</text>
<text x="212.8" y="445.8" font-size="10.2" font-weight="bold" fill="#141414" stroke="#141414" stroke-width="0.5" textLength="27.4" lengthAdjust="spacingAndGlyphs">FUEL</text>
<text x="212.8" y="456.8" font-size="10.2" font-weight="bold" fill="#141414" stroke="#141414" stroke-width="0.5" textLength="60.0" lengthAdjust="spacingAndGlyphs">INDICATOR</text>
<text x="212.8" y="467.9" font-size="10.2" font-weight="bold" fill="#141414" stroke="#141414" stroke-width="0.5" textLength="31.0" lengthAdjust="spacingAndGlyphs">LIGHT</text>
<text x="314.6" y="434.7" font-size="10.2" font-weight="bold" fill="#141414" stroke="#141414" stroke-width="0.5" textLength="32.5" lengthAdjust="spacingAndGlyphs">DOOR</text>
<text x="314.6" y="445.8" font-size="10.2" font-weight="bold" fill="#141414" stroke="#141414" stroke-width="0.5" textLength="31.3" lengthAdjust="spacingAndGlyphs">OPEN</text>
<text x="314.6" y="456.8" font-size="10.2" font-weight="bold" fill="#141414" stroke="#141414" stroke-width="0.5" textLength="60.0" lengthAdjust="spacingAndGlyphs">INDICATOR</text>
<text x="314.6" y="467.9" font-size="10.2" font-weight="bold" fill="#141414" stroke="#141414" stroke-width="0.5" textLength="31.0" lengthAdjust="spacingAndGlyphs">LIGHT</text>
<text x="415.8" y="434.9" font-size="10.2" font-weight="bold" fill="#141414" stroke="#141414" stroke-width="0.5" textLength="57.5" lengthAdjust="spacingAndGlyphs">SEAT BELT</text>
<text x="415.8" y="445.9" font-size="10.2" font-weight="bold" fill="#141414" stroke="#141414" stroke-width="0.5" textLength="57.0" lengthAdjust="spacingAndGlyphs">REMINDER</text>
<text x="415.8" y="457.0" font-size="10.2" font-weight="bold" fill="#141414" stroke="#141414" stroke-width="0.5" textLength="60.0" lengthAdjust="spacingAndGlyphs">INDICATOR</text>
<text x="415.8" y="468.0" font-size="10.2" font-weight="bold" fill="#141414" stroke="#141414" stroke-width="0.5" textLength="31.0" lengthAdjust="spacingAndGlyphs">LIGHT</text>
<text x="518.2" y="423.0" font-size="10.2" font-weight="bold" fill="#141414" stroke="#141414" stroke-width="0.5" textLength="37.0" lengthAdjust="spacingAndGlyphs">BRAKE</text>
<text x="518.2" y="434.0" font-size="10.2" font-weight="bold" fill="#141414" stroke="#141414" stroke-width="0.5" textLength="43.0" lengthAdjust="spacingAndGlyphs">SYSTEM</text>
<text x="518.2" y="445.1" font-size="10.2" font-weight="bold" fill="#141414" stroke="#141414" stroke-width="0.5" textLength="58.6" lengthAdjust="spacingAndGlyphs">INDICATOR</text>
<text x="518.2" y="456.1" font-size="10.2" font-weight="bold" fill="#141414" stroke="#141414" stroke-width="0.5" textLength="31.0" lengthAdjust="spacingAndGlyphs">LIGHT</text>
<text x="619.3" y="434.4" font-size="10.2" font-weight="bold" fill="#141414" stroke="#141414" stroke-width="0.5" textLength="36.5" lengthAdjust="spacingAndGlyphs">TRUNK</text>
<text x="619.3" y="445.5" font-size="10.2" font-weight="bold" fill="#141414" stroke="#141414" stroke-width="0.5" textLength="56.5" lengthAdjust="spacingAndGlyphs">LID/HATCH</text>
<text x="619.3" y="456.6" font-size="10.2" font-weight="bold" fill="#141414" stroke="#141414" stroke-width="0.5" textLength="30.5" lengthAdjust="spacingAndGlyphs">OPEN</text>
<text x="619.3" y="467.7" font-size="10.2" font-weight="bold" fill="#141414" stroke="#141414" stroke-width="0.5" textLength="59.0" lengthAdjust="spacingAndGlyphs">INDICATOR</text>
<text x="619.3" y="478.8" font-size="10.2" font-weight="bold" fill="#141414" stroke="#141414" stroke-width="0.5" textLength="31.0" lengthAdjust="spacingAndGlyphs">LIGHT</text>
<rect x="105.1" y="472.2" width="34.1" height="20.6" fill="none" stroke="#141414" stroke-width="1.3"/>
<path d="M124.2,479.6 H109.4 L107.6,482 L109.4,484.5 H124.2 C125,488 126.5,489.3 128.5,489.6 H135.4 C136.8,485 136.8,479.5 135.2,474.9 H128.5 C126.5,475.2 125,476.5 124.2,479.6 Z" stroke="#141414" stroke-width="1.5" fill="none" stroke-linecap="butt" stroke-linejoin="round"/>
<rect x="127.2" y="480.4" width="6.1" height="4.5" fill="none" stroke="#141414" stroke-width="1.6"/>
<rect x="211.0" y="477.4" width="32.2" height="36.2" fill="none" stroke="#141414" stroke-width="1.55"/>
<path d="M219.4,486 Q219.4,484.4 221,484.4 H230.2 Q231.8,484.4 231.8,486 V505 H233 V508.4 H218.3 V505 H219.4 Z" fill="#141414"/>
<rect x="222.1" y="487.1" width="7.6" height="4.9" fill="#fff"/>
<path d="M231.5,487.6 L234.6,485.3 L238.9,489.8 L239.3,503.4 Q239.2,506.4 237,506.3 Q235,506.2 235.2,503.6 L235.6,498 Q235.5,494.2 231.8,493.2" stroke="#141414" stroke-width="1.9" fill="none" stroke-linecap="round" stroke-linejoin="round"/>
<path d="M231.5,486 L234.6,484.4 L236.6,486.6 L233,489.5 Z" fill="#141414"/>
<rect x="312.7" y="477.9" width="40.0" height="47.5" fill="none" stroke="#141414" stroke-width="1.55"/>
<rect x="324.6" y="482.6" width="15.8" height="36.6" rx="3.4" fill="#141414"/>
<rect x="327.6" y="493.2" width="9.6" height="10" fill="none" stroke="#bbb" stroke-width="0.5"/>
<rect x="328.6" y="504.2" width="7" height="2.2" fill="#fff"/>
<line x1="325.0" y1="496.4" x2="320.6" y2="504.0" stroke="#141414" stroke-width="2.6" stroke-linecap="round"/>
<line x1="340.0" y1="496.4" x2="343.8" y2="504.0" stroke="#141414" stroke-width="2.6" stroke-linecap="round"/>
<rect x="413.3" y="477.6" width="41.3" height="26.2" fill="none" stroke="#141414" stroke-width="1.35"/>
<rect x="432.7" y="483.8" width="2.4" height="2.4" fill="#141414"/>
<ellipse cx="433.9" cy="482.3" rx="1.9" ry="2.25" fill="#141414"/>
<path d="M430,486.8 Q431.5,485.2 433.9,485.2 Q437,485.2 438.7,487 Q440,490 439.9,494.5 H428.8 Q428.6,489.5 430,486.8 Z" fill="#141414"/>
<line x1="439.4" y1="483.0" x2="437.6" y2="485.2" stroke="#141414" stroke-width="1.3" stroke-linecap="butt"/>
<line x1="438.3" y1="484.2" x2="429.8" y2="494.7" stroke="#fff" stroke-width="1.3" stroke-linecap="butt"/>
<rect x="429" y="494.5" width="11" height="1.3" fill="#fff"/>
<path d="M426.9,496.5 H441 L442,497.2" stroke="#141414" stroke-width="1.3" fill="none" stroke-linecap="butt" stroke-linejoin="miter"/>
<path d="M431.4,496.6 V501 M437,496.6 V501" stroke="#141414" stroke-width="1.8" fill="none" stroke-linecap="round" stroke-linejoin="miter"/>
<rect x="517.5" y="464.3" width="49.3" height="24.6" fill="none" stroke="#141414" stroke-width="1.5"/>
<text x="523.6" y="482.0" font-size="15.4" font-weight="bold" fill="#141414" stroke="#141414" stroke-width="1.0" textLength="37.4" lengthAdjust="spacingAndGlyphs">BRAKE</text>
<text x="527.8" y="501.7" font-size="10.3" font-weight="bold" fill="#141414" stroke="#141414" stroke-width="0.5" textLength="28.4" lengthAdjust="spacingAndGlyphs">(USA)</text>
<rect x="517.5" y="509.3" width="49.3" height="25.4" fill="none" stroke="#141414" stroke-width="1.5"/>
<circle cx="542.1" cy="521.7" r="7.2" fill="none" stroke="#141414" stroke-width="1.4"/>
<path d="M533.2,513.8 A12.1,12.1 0 0 0 533.2,529.6 M551,513.8 A12.1,12.1 0 0 1 551,529.6" stroke="#141414" stroke-width="2.0" fill="none" stroke-linecap="round" stroke-linejoin="miter"/>
<line x1="542.1" y1="516.6" x2="542.1" y2="524.4" stroke="#141414" stroke-width="1.6" stroke-linecap="butt"/>
<circle cx="542.1" cy="526.8" r="0.95" fill="#141414"/>
<text x="520.1" y="547.9" font-size="10.3" font-weight="bold" fill="#141414" stroke="#141414" stroke-width="0.5" textLength="45.1" lengthAdjust="spacingAndGlyphs">(Canada)</text>
<rect x="618.4" y="487.4" width="55.0" height="35.4" fill="none" stroke="#141414" stroke-width="1.4"/>
<path d="M626.5,505.4 Q626.5,501 631.5,500.6 H658.5 Q663.2,501 663.2,505.4 Q663.2,510.2 658.5,510.2 H631.5 Q626.5,510.2 626.5,505.4 Z" fill="#141414"/>
<path d="M635.2,501.4 L641.6,494.8 H649.2 L654.8,500.8" stroke="#141414" stroke-width="2.0" fill="none" stroke-linecap="butt" stroke-linejoin="round"/>
<line x1="655.0" y1="500.6" x2="658.6" y2="497.0" stroke="#141414" stroke-width="2.6" stroke-linecap="round"/>
<circle cx="636.5" cy="510.2" r="3.3" fill="#141414"/><circle cx="655.3" cy="510.2" r="3.3" fill="#141414"/>
<text x="66.6" y="562.5" font-size="7.7" font-weight="normal" fill="#141414" stroke="#141414" stroke-width="0.45" textLength="9.0" lengthAdjust="spacingAndGlyphs">D1</text>
<text x="172.0" y="562.5" font-size="7.7" font-weight="normal" fill="#141414" stroke="#141414" stroke-width="0.45" textLength="9.2" lengthAdjust="spacingAndGlyphs">B4</text>
<text x="272.8" y="562.5" font-size="7.7" font-weight="normal" fill="#141414" stroke="#141414" stroke-width="0.45" textLength="9.4" lengthAdjust="spacingAndGlyphs">B2</text>
<text x="375.2" y="562.5" font-size="7.7" font-weight="normal" fill="#141414" stroke="#141414" stroke-width="0.45" textLength="9.4" lengthAdjust="spacingAndGlyphs">B8</text>
<text x="472.2" y="562.5" font-size="7.7" font-weight="normal" fill="#141414" stroke="#141414" stroke-width="0.45" textLength="14.2" lengthAdjust="spacingAndGlyphs">B16</text>
<text x="578.8" y="562.5" font-size="7.7" font-weight="normal" fill="#141414" stroke="#141414" stroke-width="0.45" textLength="9.2" lengthAdjust="spacingAndGlyphs">B7</text>
<path d="M83.24,577.60 Q84.40,579.90 87.60,580.70 Q90.80,579.90 91.96,577.60" stroke="#141414" stroke-width="2.8" fill="none" stroke-linecap="round" stroke-linejoin="round"/>
<line x1="87.6" y1="579.6" x2="87.6" y2="585.5" stroke="#141414" stroke-width="5.9" stroke-linecap="butt"/>
<path d="M84.65,585.00 Q84.65,580.20 82.90,577.50 L84.95,580.00 Z" fill="#141414"/>
<path d="M90.55,585.00 Q90.55,580.20 92.30,577.50 L90.25,580.00 Z" fill="#141414"/>
<line x1="87.6" y1="582.0" x2="87.6" y2="652.0" stroke="#141414" stroke-width="5.9" stroke-linecap="butt"/>
<path d="M81.1,651.2 L94.1,651.2 L87.6,662.8 Z" fill="#141414"/>
<path d="M188.94,577.60 Q190.10,579.90 193.30,580.70 Q196.50,579.90 197.66,577.60" stroke="#141414" stroke-width="2.8" fill="none" stroke-linecap="round" stroke-linejoin="round"/>
<line x1="193.3" y1="579.6" x2="193.3" y2="585.5" stroke="#141414" stroke-width="5.9" stroke-linecap="butt"/>
<path d="M190.35,585.00 Q190.35,580.20 188.60,577.50 L190.65,580.00 Z" fill="#141414"/>
<path d="M196.25,585.00 Q196.25,580.20 198.00,577.50 L195.95,580.00 Z" fill="#141414"/>
<line x1="193.3" y1="582.0" x2="193.3" y2="652.0" stroke="#141414" stroke-width="5.9" stroke-linecap="butt"/>
<line x1="192.3" y1="589.5" x2="194.2" y2="597.0" stroke="#fff" stroke-width="1.5" stroke-linecap="round"/>
<line x1="192.3" y1="610.5" x2="194.2" y2="618.0" stroke="#fff" stroke-width="1.5" stroke-linecap="round"/>
<line x1="192.3" y1="631.5" x2="194.2" y2="639.0" stroke="#fff" stroke-width="1.5" stroke-linecap="round"/>
<path d="M186.8,651.2 L199.8,651.2 L193.3,662.8 Z" fill="#141414"/>
<path d="M290.44,577.60 Q291.60,579.90 294.80,580.70 Q298.00,579.90 299.16,577.60" stroke="#141414" stroke-width="2.8" fill="none" stroke-linecap="round" stroke-linejoin="round"/>
<line x1="294.8" y1="579.6" x2="294.8" y2="585.5" stroke="#141414" stroke-width="5.9" stroke-linecap="butt"/>
<path d="M291.85,585.00 Q291.85,580.20 290.10,577.50 L292.15,580.00 Z" fill="#141414"/>
<path d="M297.75,585.00 Q297.75,580.20 299.50,577.50 L297.45,580.00 Z" fill="#141414"/>
<line x1="294.8" y1="582.0" x2="294.8" y2="652.0" stroke="#141414" stroke-width="5.9" stroke-linecap="butt"/>
<line x1="293.8" y1="589.5" x2="295.7" y2="597.0" stroke="#fff" stroke-width="1.5" stroke-linecap="round"/>
<line x1="293.8" y1="610.5" x2="295.7" y2="618.0" stroke="#fff" stroke-width="1.5" stroke-linecap="round"/>
<line x1="293.8" y1="631.5" x2="295.7" y2="639.0" stroke="#fff" stroke-width="1.5" stroke-linecap="round"/>
<path d="M288.3,651.2 L301.3,651.2 L294.8,662.8 Z" fill="#141414"/>
<path d="M392.84,577.60 Q394.00,579.90 397.20,580.70 Q400.40,579.90 401.56,577.60" stroke="#141414" stroke-width="2.8" fill="none" stroke-linecap="round" stroke-linejoin="round"/>
<line x1="397.2" y1="579.6" x2="397.2" y2="585.5" stroke="#141414" stroke-width="5.9" stroke-linecap="butt"/>
<path d="M394.25,585.00 Q394.25,580.20 392.50,577.50 L394.55,580.00 Z" fill="#141414"/>
<path d="M400.15,585.00 Q400.15,580.20 401.90,577.50 L399.85,580.00 Z" fill="#141414"/>
<line x1="397.2" y1="582.0" x2="397.2" y2="652.0" stroke="#141414" stroke-width="5.9" stroke-linecap="butt"/>
<line x1="396.2" y1="589.5" x2="398.1" y2="597.0" stroke="#fff" stroke-width="1.5" stroke-linecap="round"/>
<line x1="396.2" y1="610.5" x2="398.1" y2="618.0" stroke="#fff" stroke-width="1.5" stroke-linecap="round"/>
<line x1="396.2" y1="631.5" x2="398.1" y2="639.0" stroke="#fff" stroke-width="1.5" stroke-linecap="round"/>
<path d="M390.7,651.2 L403.7,651.2 L397.2,662.8 Z" fill="#141414"/>
<path d="M493.84,577.60 Q495.00,579.90 498.20,580.70 Q501.40,579.90 502.56,577.60" stroke="#141414" stroke-width="2.8" fill="none" stroke-linecap="round" stroke-linejoin="round"/>
<line x1="498.2" y1="579.6" x2="498.2" y2="585.5" stroke="#141414" stroke-width="5.9" stroke-linecap="butt"/>
<path d="M495.25,585.00 Q495.25,580.20 493.50,577.50 L495.55,580.00 Z" fill="#141414"/>
<path d="M501.15,585.00 Q501.15,580.20 502.90,577.50 L500.85,580.00 Z" fill="#141414"/>
<line x1="498.2" y1="582.0" x2="498.2" y2="652.0" stroke="#141414" stroke-width="5.9" stroke-linecap="butt"/>
<line x1="497.2" y1="589.5" x2="499.1" y2="597.0" stroke="#fff" stroke-width="1.5" stroke-linecap="round"/>
<line x1="497.2" y1="610.5" x2="499.1" y2="618.0" stroke="#fff" stroke-width="1.5" stroke-linecap="round"/>
<line x1="497.2" y1="631.5" x2="499.1" y2="639.0" stroke="#fff" stroke-width="1.5" stroke-linecap="round"/>
<path d="M491.7,651.2 L504.7,651.2 L498.2,662.8 Z" fill="#141414"/>
<path d="M595.84,577.60 Q597.00,579.90 600.20,580.70 Q603.40,579.90 604.56,577.60" stroke="#141414" stroke-width="2.8" fill="none" stroke-linecap="round" stroke-linejoin="round"/>
<line x1="600.2" y1="579.6" x2="600.2" y2="585.5" stroke="#141414" stroke-width="5.9" stroke-linecap="butt"/>
<path d="M597.25,585.00 Q597.25,580.20 595.50,577.50 L597.55,580.00 Z" fill="#141414"/>
<path d="M603.15,585.00 Q603.15,580.20 604.90,577.50 L602.85,580.00 Z" fill="#141414"/>
<line x1="600.2" y1="582.0" x2="600.2" y2="652.0" stroke="#141414" stroke-width="5.9" stroke-linecap="butt"/>
<path d="M593.7,651.2 L606.7,651.2 L600.2,662.8 Z" fill="#141414"/>
<text x="71.3" y="583.0" font-size="9.6" font-weight="bold" fill="#141414" stroke="#141414" stroke-width="0.5" textLength="4.0" lengthAdjust="spacingAndGlyphs">1</text>
<text x="98.0" y="582.7" font-size="10.1" font-weight="bold" fill="#141414" stroke="#141414" stroke-width="0.5" textLength="25.7" lengthAdjust="spacingAndGlyphs">C559</text>
<text x="176.9" y="583.4" font-size="9.6" font-weight="bold" fill="#141414" stroke="#141414" stroke-width="0.5" textLength="5.6" lengthAdjust="spacingAndGlyphs">4</text>
<text x="278.2" y="588.1" font-size="9.6" font-weight="bold" fill="#141414" stroke="#141414" stroke-width="0.5" textLength="5.6" lengthAdjust="spacingAndGlyphs">2</text>
<text x="380.0" y="587.6" font-size="9.6" font-weight="bold" fill="#141414" stroke="#141414" stroke-width="0.5" textLength="5.8" lengthAdjust="spacingAndGlyphs">8</text>
<text x="475.6" y="588.4" font-size="9.6" font-weight="bold" fill="#141414" stroke="#141414" stroke-width="0.5" textLength="12.2" lengthAdjust="spacingAndGlyphs">16</text>
<text x="583.0" y="588.2" font-size="9.6" font-weight="bold" fill="#141414" stroke="#141414" stroke-width="0.5" textLength="5.4" lengthAdjust="spacingAndGlyphs">7</text>
<text x="611.8" y="583.5" font-size="10.1" font-weight="bold" fill="#141414" stroke="#141414" stroke-width="0.5" textLength="25.8" lengthAdjust="spacingAndGlyphs">C560</text>
<text x="62.2" y="615.5" font-size="7.4" font-weight="bold" fill="#141414" stroke="#141414" stroke-width="0.38" textLength="16.6" lengthAdjust="spacingAndGlyphs">PNK</text>
<text x="148.5" y="615.5" font-size="7.4" font-weight="bold" fill="#141414" stroke="#141414" stroke-width="0.38" textLength="35.8" lengthAdjust="spacingAndGlyphs">BLU/WHT</text>
<text x="238.3" y="615.5" font-size="7.4" font-weight="bold" fill="#141414" stroke="#141414" stroke-width="0.38" textLength="48.2" lengthAdjust="spacingAndGlyphs">LT GRN/RED</text>
<text x="353.1" y="615.5" font-size="7.4" font-weight="bold" fill="#141414" stroke="#141414" stroke-width="0.38" textLength="35.3" lengthAdjust="spacingAndGlyphs">RED/BLU</text>
<text x="452.0" y="615.5" font-size="7.4" font-weight="bold" fill="#141414" stroke="#141414" stroke-width="0.38" textLength="37.2" lengthAdjust="spacingAndGlyphs">GRN/RED</text>
<text x="574.0" y="615.5" font-size="7.4" font-weight="bold" fill="#141414" stroke="#141414" stroke-width="0.38" textLength="17.2" lengthAdjust="spacingAndGlyphs">GRN</text>
<text x="66.0" y="674.1" font-size="10.7" font-weight="normal" fill="#141414" stroke="#141414" stroke-width="0.25" textLength="18.6" lengthAdjust="spacingAndGlyphs">See</text>
<text x="66.0" y="685.1" font-size="10.7" font-weight="normal" fill="#141414" stroke="#141414" stroke-width="0.25" textLength="55.8" lengthAdjust="spacingAndGlyphs">Immobilizer</text>
<text x="66.0" y="696.2" font-size="10.7" font-weight="normal" fill="#141414" stroke="#141414" stroke-width="0.25" textLength="36.0" lengthAdjust="spacingAndGlyphs">System</text>
<text x="172.4" y="674.6" font-size="10.7" font-weight="normal" fill="#141414" stroke="#141414" stroke-width="0.25" textLength="64.6" lengthAdjust="spacingAndGlyphs">See Low Fuel</text>
<text x="172.4" y="685.6" font-size="10.7" font-weight="normal" fill="#141414" stroke="#141414" stroke-width="0.25" textLength="41.8" lengthAdjust="spacingAndGlyphs">Indicator</text>
<text x="172.4" y="696.7" font-size="10.7" font-weight="normal" fill="#141414" stroke="#141414" stroke-width="0.25" textLength="23.0" lengthAdjust="spacingAndGlyphs">Light</text>
<text x="270.0" y="674.6" font-size="10.7" font-weight="normal" fill="#141414" stroke="#141414" stroke-width="0.25" textLength="44.8" lengthAdjust="spacingAndGlyphs">See Door</text>
<text x="270.0" y="685.6" font-size="10.7" font-weight="normal" fill="#141414" stroke="#141414" stroke-width="0.25" textLength="25.5" lengthAdjust="spacingAndGlyphs">Open</text>
<text x="270.0" y="696.7" font-size="10.7" font-weight="normal" fill="#141414" stroke="#141414" stroke-width="0.25" textLength="41.8" lengthAdjust="spacingAndGlyphs">Indicator</text>
<text x="366.4" y="674.6" font-size="10.7" font-weight="normal" fill="#141414" stroke="#141414" stroke-width="0.25" textLength="65.0" lengthAdjust="spacingAndGlyphs">See Seat Belt</text>
<text x="366.4" y="685.6" font-size="10.7" font-weight="normal" fill="#141414" stroke="#141414" stroke-width="0.25" textLength="46.5" lengthAdjust="spacingAndGlyphs">Reminder</text>
<text x="477.4" y="674.6" font-size="10.7" font-weight="normal" fill="#141414" stroke="#141414" stroke-width="0.25" textLength="49.6" lengthAdjust="spacingAndGlyphs">See Brake</text>
<text x="477.4" y="685.6" font-size="10.7" font-weight="normal" fill="#141414" stroke="#141414" stroke-width="0.25" textLength="35.5" lengthAdjust="spacingAndGlyphs">System</text>
<text x="477.4" y="696.7" font-size="10.7" font-weight="normal" fill="#141414" stroke="#141414" stroke-width="0.25" textLength="41.8" lengthAdjust="spacingAndGlyphs">Indicator</text>
<text x="477.4" y="707.8" font-size="10.7" font-weight="normal" fill="#141414" stroke="#141414" stroke-width="0.25" textLength="23.0" lengthAdjust="spacingAndGlyphs">Light</text>
<text x="571.9" y="674.6" font-size="10.7" font-weight="normal" fill="#141414" stroke="#141414" stroke-width="0.25" textLength="50.5" lengthAdjust="spacingAndGlyphs">See Hatch</text>
<text x="571.9" y="685.6" font-size="10.7" font-weight="normal" fill="#141414" stroke="#141414" stroke-width="0.25" textLength="59.0" lengthAdjust="spacingAndGlyphs">or Trunk Lid</text>
<text x="571.9" y="696.7" font-size="10.7" font-weight="normal" fill="#141414" stroke="#141414" stroke-width="0.25" textLength="71.6" lengthAdjust="spacingAndGlyphs">Open Indicator</text>
<text x="68.9" y="725.7" font-size="10.7" font-weight="normal" fill="#141414" stroke="#141414" stroke-width="0.25" textLength="46.8" lengthAdjust="spacingAndGlyphs">'00 Model</text>
<g fill="#b8b8b8">
<rect x="118" y="779.2" width="3" height="1.8"/>
<rect x="148" y="779.2" width="3" height="1.8"/>
<rect x="178" y="779.2" width="3" height="1.8"/>
<rect x="200" y="779.2" width="3" height="1.8"/>
<rect x="231" y="779" width="4" height="2"/>
<rect x="249" y="779" width="7" height="2"/>
<rect x="258" y="779" width="6" height="2"/>
<rect x="277" y="779" width="7" height="2"/>
<rect x="291" y="779" width="6" height="2"/>
<rect x="299" y="779" width="4" height="2"/>
<rect x="310" y="779" width="3" height="2"/>
<rect x="315" y="779" width="4" height="2"/>
<rect x="321" y="779" width="5" height="2"/>
<rect x="329" y="779" width="6" height="2"/>
<rect x="342" y="779" width="6" height="2"/>
<rect x="361" y="779" width="3" height="2"/>
<rect x="378" y="779" width="5" height="2"/>
<rect x="390" y="779" width="7" height="2"/>
<rect x="404" y="779" width="7" height="2"/>
<rect x="426" y="779" width="4" height="2"/>
<rect x="433" y="779" width="5" height="2"/>
<rect x="445" y="779" width="6" height="2"/>
<rect x="461" y="779" width="5" height="2"/>
<rect x="473" y="779" width="3" height="2"/>
<rect x="478" y="779" width="6" height="2"/>
<rect x="497" y="779" width="7" height="2"/>
<rect x="506" y="779" width="5" height="2"/>
<rect x="513" y="779" width="7" height="2"/>
<rect x="522" y="779" width="6" height="2"/>
<rect x="531" y="779" width="4" height="2"/>
<rect x="538" y="779" width="5" height="2"/>
<rect x="545" y="779" width="6" height="2"/>
<rect x="558" y="779" width="7" height="2"/>
<rect x="577" y="779" width="6" height="2"/>
<rect x="585" y="779" width="5" height="2"/>
<rect x="593" y="779" width="7" height="2"/>
<rect x="603" y="779" width="3" height="2"/>
<rect x="609" y="779" width="3" height="2"/>
<rect x="614" y="779" width="3" height="2"/>
<rect x="620" y="779" width="6" height="2"/>
<rect x="629" y="779" width="7" height="2"/>
</g>
</svg>
</body></html>
